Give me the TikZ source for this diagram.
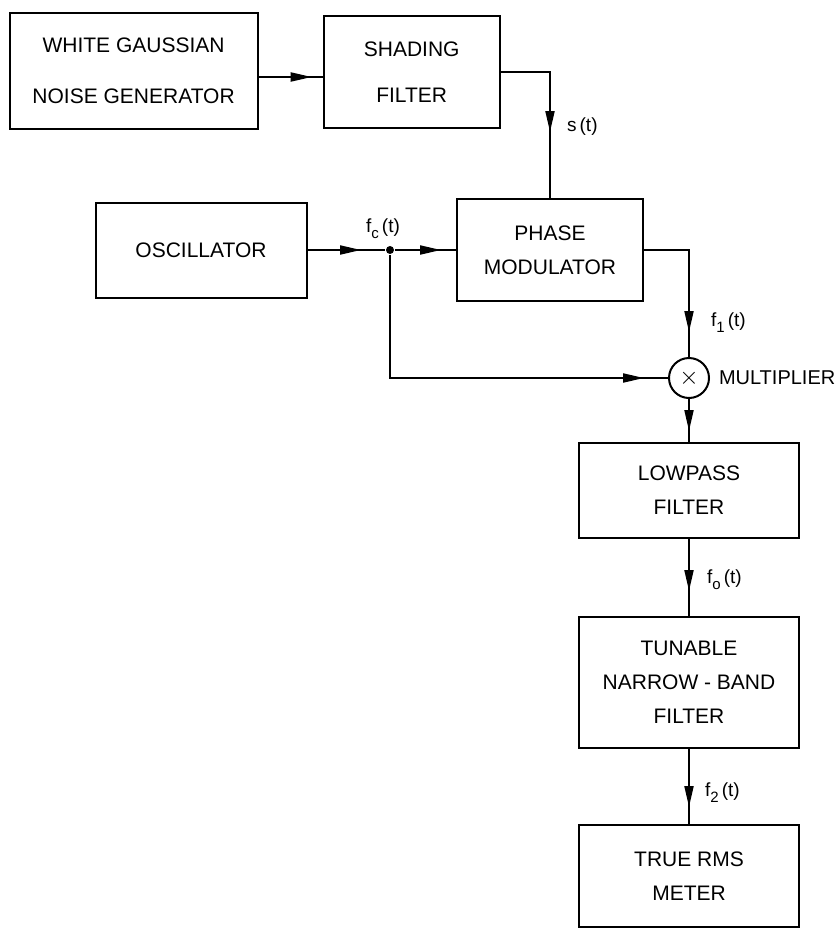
\documentclass[tikz,border=0pt]{standalone}
\usepackage{fontspec}
\setmainfont{Liberation Sans}
\usetikzlibrary{arrows.meta, positioning, decorations.markings}
\newcommand{\sigsub}[1]{\raisebox{-6pt}{\fontsize{15}{15}\selectfont #1}}

\begin{document}
\begin{tikzpicture}[
    x=1pt, y=-1pt,
    line width=2pt,
    box/.style={rectangle, draw, minimum width=220pt, align=center, font=\fontsize{21}{34}\selectfont, inner sep=0pt},
    arrow/.style={postaction={decorate}, decoration={markings, mark=at position #1 with {\arrow{Triangle[length=21pt,width=9pt]}}}},
    sig/.style={font=\fontsize{19}{20}\selectfont, anchor=west, inner sep=0pt},
    dot/.style={circle, fill, inner sep=0pt, minimum size=8pt}
]
\useasboundingbox (0,0) rectangle (838,929);

% Source side
\node[box, minimum width=248pt, minimum height=116pt] (wgn) at (133.6, 71) {WHITE GAUSSIAN\\[17pt]NOISE GENERATOR};
\node[box, minimum width=176pt, minimum height=112pt] (shading) at (411.7, 72) {SHADING\\[12pt]FILTER};
\node[box, minimum width=211pt, minimum height=95pt] (osc) at (201, 250) {OSCILLATOR};
\node[box, minimum width=186pt, minimum height=102pt] (phase) at (550, 250) {PHASE\\MODULATOR};
\node[dot] (split) at (390, 250) {};

% Multiplier
\node[circle, draw, minimum size=40pt, inner sep=0pt, font=\fontsize{30}{30}\selectfont] (mult) at (689, 378) {$\times$};
\node[sig, font=\fontsize{20}{20}\selectfont] (multlbl) at (718, 378) {MULTIPLIER};

% Output chain
\node[box, minimum height=95pt] (lowpass) at (689, 490.5) {LOWPASS\\FILTER};
\node[box, minimum height=131pt] (tunable) at (689, 682.5) {TUNABLE\\NARROW - BAND\\FILTER};
\node[box, minimum height=102pt] (rms) at (689, 876) {TRUE RMS\\METER};

% Connectors
\draw[arrow=-11pt] ([yshift=-6pt]wgn.east) -- ([yshift=-6pt]wgn.east -| shading.west);
\draw[arrow=-66pt] (shading.east) -| (phase.north);
\draw[arrow=-24pt] (osc.east) -- (split);
\draw[arrow=-15pt] (split) -- (phase.west);
\draw[arrow=-24pt] (split) |- (mult.west);
\draw[arrow=-25pt] (phase.east) -| (mult.north);
\draw[arrow=-11pt] (mult.south) -- (lowpass.north);
\draw[arrow=-25pt] (lowpass.south) -- (tunable.north);
\draw[arrow=-17pt] (tunable.south) -- (rms.north);

% Signal labels
\node[sig] (st) at (566, 127) {s\,(t)};
\node[sig] (fct) at (365, 229) {f\sigsub{c}\,(t)};
\node[sig] (f1t) at (710, 323) {f\sigsub{1}\,(t)};
\node[sig] (f0t) at (706, 580) {f\sigsub{o}\,(t)};
\node[sig] (f2t) at (704, 793) {f\sigsub{2}\,(t)};

\end{tikzpicture}
\end{document}
